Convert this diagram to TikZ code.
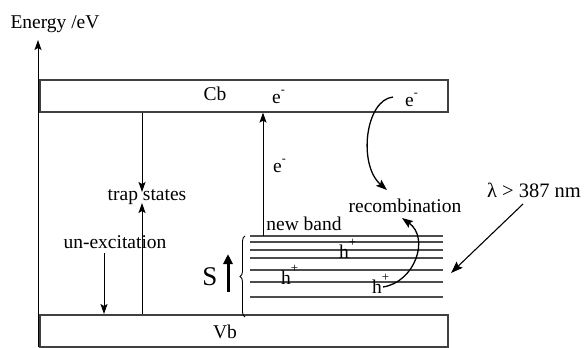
\documentclass[tikz,border=0pt]{standalone}
\usepackage{fontspec}
\setmainfont{Liberation Serif}
\usetikzlibrary{arrows.meta,decorations.pathreplacing}
\newcommand{\supm}{\raisebox{0.5em}{\fontsize{12}{12}\selectfont -}}
\newcommand{\supp}{\raisebox{0.6em}{\fontsize{13}{13}\selectfont +}}
\begin{document}
\begin{tikzpicture}[x=1pt,y=-1pt,
  lbl/.style={inner sep=0pt, anchor=base, font=\fontsize{19.5}{22}\selectfont},
  lblw/.style={inner sep=0pt, anchor=base west, font=\fontsize{19.5}{22}\selectfont},
  bandbox/.style={draw=black!75, line width=1.6pt, rectangle, inner sep=0pt, anchor=north west, minimum width=408pt, minimum height=32pt},
  level/.style={draw=black!70, line width=1.2pt},
  arr/.style={draw, line width=1pt, -{Stealth[length=10pt,width=7pt,inset=2pt]}},
  carr/.style={draw, line width=1.3pt, -{Stealth[length=11pt,width=8pt,inset=2pt]}}]
\useasboundingbox (0,0) rectangle (587,348);

% axis
\node[lbl] (energy) at (55,28) {Energy /eV};
\coordinate (axb) at (38,347);
\coordinate (axt) at (38,40);
\draw[arr] (axb) -- (axt);

% bands
\node[bandbox] (cb) at (39,79) {};
\node[bandbox] (vb) at (39,314) {};
\node[lbl] (cbt) at (215,100) {Cb};
\node[lbl] (vbt) at (225,338) {Vb};
\node[lblw] (e1) at (272,103) {e\supm};
\node[lblw] (e2) at (405,106) {e\supm};
\node[lblw] (e3) at (273,172) {e\supm};

% trap states
\node[lbl] (trap) at (147,200) {trap states};
\coordinate (tdn) at (142,192);
\coordinate (tup) at (142,203);
\draw[arr] (tdn |- cb.south) -- (tdn);
\draw[arr] (tup |- vb.north) -- (tup);

% un-excitation
\node[lbl] (unex) at (115,248) {un-excitation};
\coordinate (ux) at (104,253);
\draw[arr] (ux) -- (ux |- vb.north);

% new band levels
\foreach \yy in {236,242,250,258,270,282,297}
  \draw[level] (250,\yy) -- (443,\yy);
\node[lbl] (nband) at (304,230) {new band};
\coordinate (nb) at (263,236);
\draw[arr] (nb) -- (nb |- cb.south);

% brace and S
\draw[decorate, decoration={brace, amplitude=5pt}, line width=0.9pt] (245,317) -- (245,236);
\node[lbl, font=\fontsize{27}{30}\selectfont] (S) at (210,285) {S};
\coordinate (sb) at (228,292);
\coordinate (st) at (228,254);
\draw[line width=3pt, -{Triangle[length=10pt,width=9pt]}] (sb) -- (st);

% holes
\node[lblw] (h1) at (339,258) {h\supp};
\node[lblw] (h2) at (281,284) {h\supp};
\node[lblw] (h3) at (372,293) {h\supp};

% recombination
\node[lbl] (rec) at (405,212) {recombination};
\coordinate (ec) at (393,97);
\coordinate (rc) at (387,190);
\draw[carr] (ec) .. controls (365,100) and (358,165) .. (rc);
\coordinate (hc) at (383,287);
\coordinate (rt) at (402,218);
\draw[carr] (hc) .. controls (415,282) and (430,238) .. (rt);

% light
\node[lbl, font=\fontsize{20.5}{23}\selectfont] (lam) at (534,197) {λ > 387 nm};
\coordinate (ls) at (523,204);
\coordinate (le) at (451,273);
\draw[line width=1.1pt, -{Stealth[length=12pt,width=8.5pt,inset=2pt]}] (ls) -- (le);
\end{tikzpicture}
\end{document}
